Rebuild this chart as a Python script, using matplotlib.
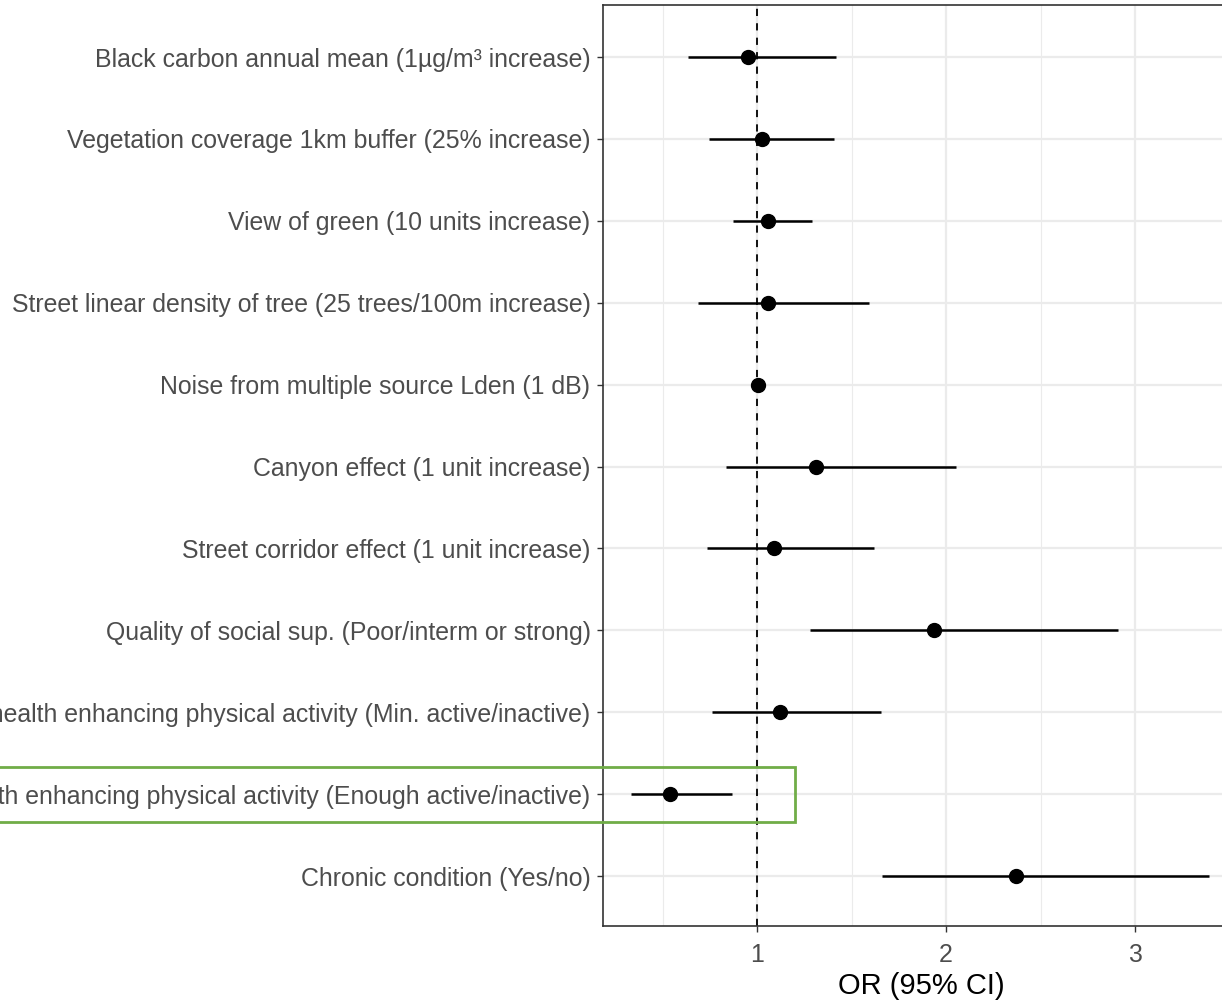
import matplotlib.pyplot as plt
from matplotlib.patches import Rectangle

plt.rcParams['font.family'] = ['Liberation Sans', 'DejaVu Sans']

labels = [
    "Black carbon annual mean (1µg/m³ increase)",
    "Vegetation coverage 1km buffer (25% increase)",
    "View of green (10 units increase)",
    "Street linear density of tree (25 trees/100m increase)",
    "Noise from multiple source Lden (1 dB)",
    "Canyon effect (1 unit increase)",
    "Street corridor effect (1 unit increase)",
    "Quality of social sup. (Poor/interm or strong)",
    "Level of health enhancing physical activity (Min. active/inactive)",
    "Level of health enhancing physical activity (Enough active/inactive)",
    "Chronic condition (Yes/no)",
]
odds = [0.952, 1.026, 1.058, 1.058, 1.005, 1.312, 1.090, 1.937, 1.122, 0.540, 2.370]
ci_low = [0.635, 0.746, 0.873, 0.688, 0.985, 0.836, 0.735, 1.280, 0.762, 0.333, 1.661]
ci_high = [1.418, 1.407, 1.291, 1.593, 1.030, 2.053, 1.619, 2.910, 1.656, 0.868, 3.390]

fig = plt.figure(figsize=(12.22, 10.01), dpi=100)
ax = fig.add_axes([603 / 1222, 1 - 926 / 1001, (1239 - 603) / 1222, 921 / 1001])

ypos = list(range(len(labels)))

# grid like theme_bw
for x in [0.5, 1.5, 2.5, 3.5]:
    ax.axvline(x, color='#ebebeb', lw=0.8, zorder=0)
for x in [1, 2, 3]:
    ax.axvline(x, color='#ebebeb', lw=1.6, zorder=0)
for y in ypos:
    ax.axhline(y, color='#ebebeb', lw=1.6, zorder=0)

ax.axvline(1, color='black', lw=1.3, ls=(0, (4, 4)), zorder=1)
ax.hlines(ypos, ci_low, ci_high, color='black', lw=1.8, zorder=2)
ax.plot(odds, ypos, 'o', color='black', ms=10, zorder=3)

ax.set_xlim(0.185, 3.55)
ax.set_ylim(10.61, -0.635)
ax.set_yticks(ypos)
ax.set_yticklabels(labels, fontsize=17.9, color='#4d4d4d')
ax.set_xticks([1, 2, 3])
ax.set_xticklabels(['1', '2', '3'], fontsize=17.9, color='#4d4d4d')
ax.tick_params(axis='y', length=4, width=1, color='#333333', pad=5)
ax.tick_params(axis='x', length=4, width=1, color='#333333', pad=8)
ax.set_xlabel('OR (95% CI)', fontsize=21, labelpad=4)
for s in ax.spines.values():
    s.set_color('#333333')
    s.set_linewidth(1.2)

# highlight box
fig.patches.append(Rectangle((-0.01, 1 - 822 / 1001), (795 + 12) / 1222, 55 / 1001,
                             transform=fig.transFigure, fill=False,
                             edgecolor='#70ad47', lw=2, zorder=10))

fig.savefig('out.png', dpi=100)
